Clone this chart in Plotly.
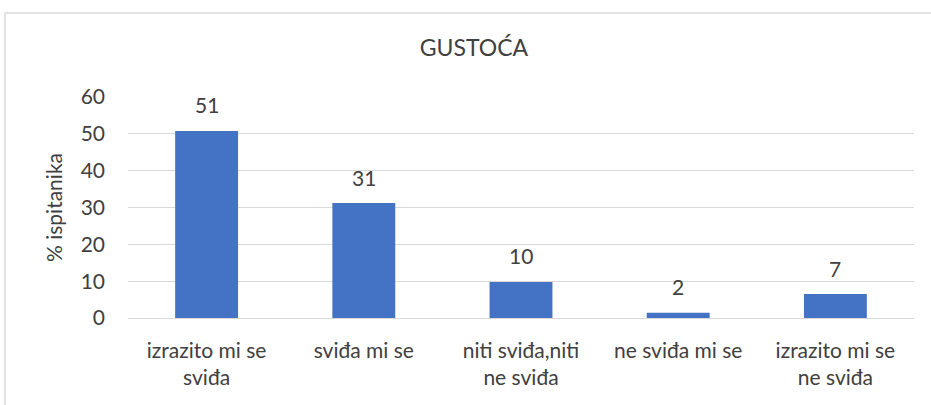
import plotly.graph_objects as go

categories = ["izrazito mi se<br>sviđa", "sviđa mi se", "niti sviđa,niti<br>ne sviđa",
              "ne sviđa mi se", "izrazito mi se<br>ne sviđa"]
values = [50.8, 31.2, 9.8, 1.4, 6.5]
labels = ["51", "31", "10", "2", "7"]
y_ticks = [0, 10, 20, 30, 40, 50, 60]

W, H = 931, 405
L, R, T, B = 128, 17, 97, 87
pw, ph = W - L - R, H - T - B

font = "Lato, Liberation Sans, sans-serif"
col = "#404040"

fig = go.Figure(go.Bar(
    x=categories, y=values,
    marker=dict(color="#4472c4", line=dict(width=0)),
    cliponaxis=False, hoverinfo="skip",
))

for c, v, t in zip(categories, values, labels):
    fig.add_annotation(x=c, y=v, text=t, showarrow=False, yanchor="middle", yshift=26,
                       font=dict(size=21, color=col, family=font))

fig.update_layout(
    width=W, height=H,
    margin=dict(l=L, r=R, t=T, b=B),
    paper_bgcolor="white", plot_bgcolor="white",
    bargap=0.6,
    showlegend=False,
    font=dict(family=font, color=col, size=21),
    title=dict(text="GUSTOĆA", x=474 / W, xanchor="center", y=1 - 48 / H, yanchor="middle",
               font=dict(size=23, color=col, family=font)),
    xaxis=dict(showgrid=False, showline=False, ticks="", tickfont=dict(size=21), ticklabelstandoff=18),
    yaxis=dict(range=[0, 60], tickvals=y_ticks, showgrid=True, gridcolor="#d9d9d9", gridwidth=1,
               zeroline=True, zerolinecolor="#d9d9d9", zerolinewidth=1, showline=False, ticks="",
               tickfont=dict(size=21), ticklabelstandoff=22,
               title=dict(text="% ispitanika", font=dict(size=21), standoff=12)),
    shapes=[dict(type="rect", xref="paper", yref="paper",
                 x0=(5 - L) / pw, x1=(W + 20 - L) / pw,
                 y0=-(B + 20) / ph, y1=1 + (T - 13) / ph,
                 line=dict(color="#d9d9d9", width=1.5), fillcolor="rgba(0,0,0,0)", layer="below")],
)

fig.write_html("out.html", config={"displayModeBar": False},
               post_script="document.body.style.margin='0';document.body.style.overflow='hidden';")
